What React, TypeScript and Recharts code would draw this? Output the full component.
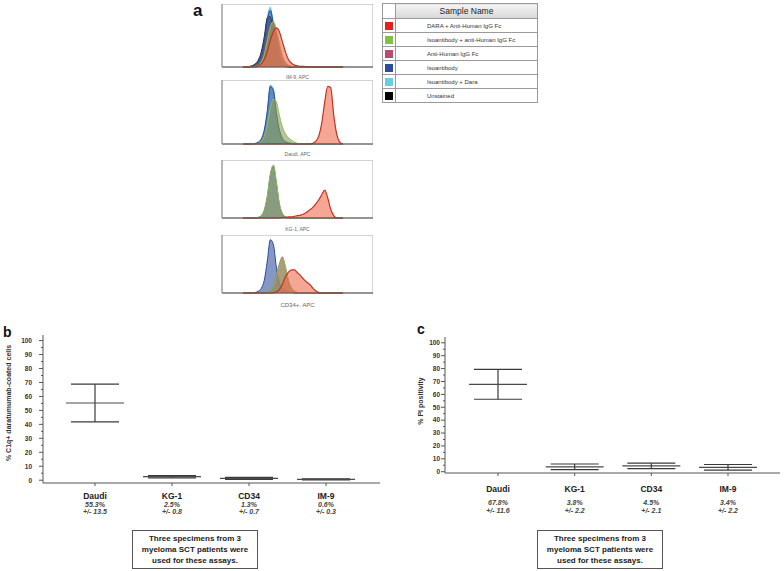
import React from "react";
import { AreaChart, Area, XAxis, YAxis, ReferenceArea, ComposedChart, Scatter, ErrorBar } from "recharts";

const FONT = "'Liberation Sans', Arial, sans-serif";

// legend of panel a
const sampleNames = [
  "DARA + Anti-Human IgG Fc",
  "Isoantibody + anti-Human IgG Fc",
  "Anti-Human IgG Fc",
  "Isoantibody",
  "Isoantibody + Dara",
  "Unstained",
];
const sampleColors = ["#e3211c", "#7dc242", "#b94a73", "#2c4c9c", "#6dcde0", "#000000"];
// overlay fills look muted in the flow plots
const fillColors = ["#ee6a4c", "#8c9f55", "#b3607d", "#34549f", "#72c9dc", "#333333"];
const strokeColors = ["#c8301f", "#93bf55", "#b0466e", "#2a4aa0", "#5cc8dc", "#222222"];

// histogram channel bins (APC, relative scale)
const bins = [14, 16, 18, 20, 22, 24, 26, 28, 30, 32, 34, 36, 38, 40, 42, 44, 46, 48, 50, 52, 54, 56, 58, 60, 62, 64, 66, 68, 70, 72, 74, 76, 78, 80];
const histTicks = [0, 4, 8, 12, 16, 20, 24, 28, 32, 36, 40, 44, 48, 52, 56, 60, 64, 68, 72, 76, 80, 84, 88, 92, 96, 100];

const im9Black = [0, 0, 0, 2, 5, 11, 24, 48, 78, 80, 55, 30, 12, 4, 1, 0, 0, 0, 0, 0, 0, 0, 0, 0, 0, 0, 0, 0, 0, 0, 0, 0, 0, 0];
const im9Blue = [0, 0, 1, 2, 4, 9, 20, 42, 75, 90, 70, 45, 22, 9, 3, 1, 0, 0, 0, 0, 0, 0, 0, 0, 0, 0, 0, 0, 0, 0, 0, 0, 0, 0];
const im9Cyan = [0, 0, 0, 1, 3, 7, 17, 40, 78, 95, 66, 40, 18, 7, 2, 0, 0, 0, 0, 0, 0, 0, 0, 0, 0, 0, 0, 0, 0, 0, 0, 0, 0, 0];
const im9Magenta = [0, 0, 0, 0, 1, 3, 9, 22, 45, 65, 70, 55, 33, 15, 6, 2, 1, 0, 0, 0, 0, 0, 0, 0, 0, 0, 0, 0, 0, 0, 0, 0, 0, 0];
const im9Green = [0, 0, 0, 0, 1, 3, 8, 20, 42, 64, 72, 60, 38, 18, 8, 3, 1, 0, 0, 0, 0, 0, 0, 0, 0, 0, 0, 0, 0, 0, 0, 0, 0, 0];
const im9Red = [0, 0, 0, 0, 0, 2, 5, 12, 25, 42, 56, 62, 56, 40, 24, 12, 6, 3, 2, 1, 1, 0.5, 0, 0, 0, 0, 0, 0, 0, 0, 0, 0, 0, 0];

const daudiBlue = [0, 0, 0, 0, 1, 3, 8, 22, 52, 90, 84, 48, 22, 9, 4, 2, 1, 0, 0, 0, 0, 0, 0, 0, 0, 0, 0, 0, 0, 0, 0, 0, 0, 0];
const daudiCyan = [0, 0, 0, 0, 0, 2, 6, 18, 48, 92, 86, 50, 22, 8, 3, 1, 0, 0, 0, 0, 0, 0, 0, 0, 0, 0, 0, 0, 0, 0, 0, 0, 0, 0];
const daudiGreen = [0, 0, 0, 0, 0, 1, 4, 12, 30, 55, 70, 66, 45, 27, 16, 10, 6, 3, 1, 0, 0, 0, 0, 0, 0, 0, 0, 0, 0, 0, 0, 0, 0, 0];
const daudiRed = [0, 0, 0, 0, 0, 0, 0, 0, 0, 0, 0, 0, 0, 0, 0, 0, 0, 0, 0, 0, 0, 0, 0, 1, 4, 12, 32, 65, 90, 88, 45, 15, 3, 0];

const kg1Blue = [0, 0, 0, 0, 0, 1, 4, 13, 36, 74, 90, 60, 23, 7, 2, 0, 0, 0, 0, 0, 0, 0, 0, 0, 0, 0, 0, 0, 0, 0, 0, 0, 0, 0];
const kg1Green = [0, 0, 0, 0, 0, 1, 4, 14, 38, 75, 91, 62, 25, 8, 2, 0, 0, 0, 0, 0, 0, 0, 0, 0, 0, 0, 0, 0, 0, 0, 0, 0, 0, 0];
const kg1Red = [0, 0, 0, 0, 0, 0, 0, 0, 0, 0, 0, 0, 0, 1, 1, 2, 2, 3, 4, 5, 7, 10, 14, 18, 24, 31, 40, 48, 35, 15, 4, 0, 0, 0];

const cd34Blue = [0, 0, 0, 0, 1, 3, 8, 22, 55, 92, 84, 45, 18, 8, 4, 2, 1, 0, 0, 0, 0, 0, 0, 0, 0, 0, 0, 0, 0, 0, 0, 0, 0, 0];
const cd34Magenta = [0, 0, 0, 0, 0, 0, 0, 0, 1, 4, 12, 30, 50, 62, 44, 20, 8, 3, 1, 0, 0, 0, 0, 0, 0, 0, 0, 0, 0, 0, 0, 0, 0, 0];
const cd34Green = [0, 0, 0, 0, 0, 0, 0, 0, 1, 4, 12, 28, 48, 60, 45, 22, 9, 3, 1, 0, 0, 0, 0, 0, 0, 0, 0, 0, 0, 0, 0, 0, 0, 0];
const cd34Red = [0, 0, 0, 0, 0, 0, 0, 0, 0, 0, 0, 2, 6, 15, 28, 36, 40, 40, 35, 30, 24, 19, 15, 9, 4, 1, 0, 0, 0, 0, 0, 0, 0, 0];

// panels b and c
const cellLines = ["Daudi", "KG-1", "CD34", "IM-9"];
const c1qMean = [55.3, 2.5, 1.3, 0.6];
const c1qSd = [13.5, 0.8, 0.7, 0.3];
const piMean = [67.8, 3.8, 4.5, 3.4];
const piSd = [11.6, 2.2, 2.1, 2.2];
const yTicks = [0, 5, 10, 15, 20, 25, 30, 35, 40, 45, 50, 55, 60, 65, 70, 75, 80, 85, 90, 95, 100];

type Series = { sample: number; values: number[] };

const histPanels: { label: string; series: Series[] }[] = [
  {
    label: "IM-9, APC",
    series: [
      { sample: 4, values: im9Cyan },
      { sample: 5, values: im9Black },
      { sample: 3, values: im9Blue },
      { sample: 2, values: im9Magenta },
      { sample: 1, values: im9Green },
      { sample: 0, values: im9Red },
    ],
  },
  {
    label: "Daudi, APC",
    series: [
      { sample: 4, values: daudiCyan },
      { sample: 3, values: daudiBlue },
      { sample: 1, values: daudiGreen },
      { sample: 0, values: daudiRed },
    ],
  },
  {
    label: "KG-1, APC",
    series: [
      { sample: 3, values: kg1Blue },
      { sample: 1, values: kg1Green },
      { sample: 0, values: kg1Red },
    ],
  },
  {
    label: "CD34+, APC",
    series: [
      { sample: 3, values: cd34Blue },
      { sample: 2, values: cd34Magenta },
      { sample: 1, values: cd34Green },
      { sample: 0, values: cd34Red },
    ],
  },
];

const histLayout = [
  { top: 4, h: 63, labelTop: 74.5, fs: 5 },
  { top: 80, h: 64, labelTop: 152, fs: 5 },
  { top: 160, h: 58, labelTop: 227, fs: 5 },
  { top: 235, h: 58, labelTop: 301.5, fs: 6 },
];

function Histogram({ idx }: { idx: number }) {
  const panel = histPanels[idx];
  const lay = histLayout[idx];
  const data = bins.map((b, i) => {
    const row: Record<string, number> = { x: b };
    panel.series.forEach((s, k) => (row["s" + k] = s.values[i]));
    return row;
  });
  return (
    <>
      <div style={{ position: "absolute", left: 216, top: lay.top }}>
        <AreaChart width={157} height={lay.h + 4} data={data} margin={{ top: 0, right: 0, bottom: 0, left: 0 }}>
          <XAxis dataKey="x" type="number" domain={[0, 100]} ticks={histTicks} tick={false} tickSize={2.5} height={4} stroke="#555" />
          <YAxis type="number" domain={[0, 100]} ticks={[0, 24, 48, 72, 96]} tick={false} tickSize={3} width={6} stroke="#999" />
          <ReferenceArea x1={0} x2={100} y1={0} y2={100} fill="none" stroke="#aaa" strokeWidth={1} />
          {panel.series.map((s, k) => (
            <Area
              key={k}
              type="monotone"
              dataKey={"s" + k}
              stroke={strokeColors[s.sample]}
              strokeWidth={s.sample === 0 ? 1.2 : 1}
              fill={fillColors[s.sample]}
              fillOpacity={s.sample === 0 ? 0.6 : 0.6}
              dot={false}
              activeDot={false}
              isAnimationActive={false}
            />
          ))}
        </AreaChart>
      </div>
      <div
        style={{
          position: "absolute",
          left: 222,
          width: 151,
          top: lay.labelTop,
          textAlign: "center",
          fontSize: lay.fs,
          lineHeight: 1,
          color: "#666",
          fontFamily: FONT,
        }}
      >
        {panel.label}
      </div>
    </>
  );
}

function LegendTable() {
  const border = "1px solid #9a9a9a";
  return (
    <table
      style={{
        position: "absolute",
        left: 382,
        top: 3,
        width: 156,
        borderCollapse: "collapse",
        tableLayout: "fixed",
        fontFamily: FONT,
      }}
    >
      <thead>
        <tr style={{ height: 15 }}>
          <th style={{ width: 12, border, padding: 0 }} />
          <th
            style={{
              border,
              padding: 0,
              fontSize: 8.5,
              fontWeight: 400,
              color: "#222",
              background: "linear-gradient(#f4f4f4, #d8d8d8)",
            }}
          >
            Sample Name
          </th>
        </tr>
      </thead>
      <tbody>
        {sampleNames.map((n, i) => (
          <tr key={n} style={{ height: 14 }}>
            <td style={{ border, padding: 0 }}>
              <div style={{ width: 8, height: 8, margin: "0 auto", background: sampleColors[i] }} />
            </td>
            <td style={{ border, padding: "0 0 0 31px", fontSize: 6, color: "#333", lineHeight: 1, whiteSpace: "nowrap" }}>{n}</td>
          </tr>
        ))}
      </tbody>
    </table>
  );
}

const MeanLine = (props: any) => {
  const { cx, cy } = props;
  if (cx == null || cy == null) return null;
  return <line x1={cx - 29} x2={cx + 29} y1={cy} y2={cy} stroke="#4a4a4a" strokeWidth={1.2} />;
};

function makeYTick(gap: number) {
  return (props: any) => {
    const { x, y, payload } = props;
    const major = payload.value % 10 === 0;
    return (
      <g>
        <line x1={x - (major ? 4 : 2)} x2={x} y1={y} y2={y} stroke="#555" />
        {major && (
          <text x={x - gap} y={y} dy={2.3} textAnchor="end" fontSize={6.5} fontWeight="bold" fill="#333" fontFamily={FONT}>
            {payload.value}
          </text>
        )}
      </g>
    );
  };
}

function makeXTick(means: number[], sds: number[], lines: number[]) {
  return (props: any) => {
    const { x, y, payload } = props;
    const i = cellLines.indexOf(payload.value);
    return (
      <g fontFamily={FONT} textAnchor="middle">
        <text x={x} y={y + lines[0]} fontSize={8.5} fontWeight="bold" fill="#222">
          {payload.value}
        </text>
        <text x={x} y={y + lines[1]} fontSize={7} fontStyle="italic" fontWeight="bold" fill="#444">
          {means[i].toFixed(1)}%
        </text>
        <text x={x} y={y + lines[2]} fontSize={7} fontStyle="italic" fontWeight="bold" fill="#444">
          {"+/- " + sds[i].toFixed(1)}
        </text>
      </g>
    );
  };
}

type SummaryProps = {
  left: number;
  means: number[];
  sds: number[];
  domain: [number, number];
  marginTop: number;
  axisWidth: number;
  xAxisHeight: number;
  pad: { left: number; right: number };
  tickGap: number;
  lines: number[];
  yLabel: string;
  yLabelPos: [number, number];
};

function SummaryChart(p: SummaryProps) {
  const data = cellLines.map((name, i) => ({ name, mean: p.means[i], sd: p.sds[i] }));
  const [lx, ly] = p.yLabelPos;
  return (
    <div style={{ position: "absolute", left: p.left, top: 330 }}>
      <ComposedChart width={384} height={193} data={data} margin={{ top: p.marginTop, right: 4, bottom: 2, left: 0 }}>
        <XAxis
          dataKey="name"
          type="category"
          padding={p.pad}
          height={p.xAxisHeight}
          tickSize={3}
          tickMargin={0}
          stroke="#555"
          interval={0}
          tick={makeXTick(p.means, p.sds, p.lines)}
        />
        <YAxis
          type="number"
          domain={p.domain}
          ticks={yTicks}
          interval={0}
          width={p.axisWidth}
          tickLine={false}
          tickSize={0}
          tickMargin={0}
          stroke="#555"
          allowDataOverflow
          tick={makeYTick(p.tickGap)}
          label={{
            content: () => (
              <text
                x={lx}
                y={ly}
                transform={`rotate(-90 ${lx} ${ly})`}
                textAnchor="middle"
                dominantBaseline="central"
                fontSize={7}
                fontWeight="bold"
                fill="#333"
                fontFamily={FONT}
              >
                {p.yLabel}
              </text>
            ),
          }}
        />
        <Scatter dataKey="mean" shape={MeanLine} isAnimationActive={false}>
          <ErrorBar dataKey="sd" direction="y" width={24} stroke="#3a3a3a" strokeWidth={1.2} isAnimationActive={false} />
        </Scatter>
      </ComposedChart>
    </div>
  );
}

function NoteBox({ left }: { left: number }) {
  return (
    <div
      style={{
        position: "absolute",
        left,
        top: 530,
        width: 124,
        height: 35,
        border: "1px solid #555",
        fontFamily: FONT,
        fontSize: 8,
        fontWeight: "bold",
        lineHeight: "11px",
        textAlign: "center",
        paddingTop: 1.5,
        color: "#222",
        boxSizing: "content-box",
      }}
    >
      Three specimens from 3<br />
      myeloma SCT patients were<br />
      used for these assays.
    </div>
  );
}

const letterStyle: React.CSSProperties = {
  position: "absolute",
  fontFamily: FONT,
  fontWeight: "bold",
  lineHeight: 1,
  color: "#111",
};

export default function App() {
  return (
    <div style={{ position: "absolute", left: 0, top: 0, width: 784, height: 571, background: "#fff", overflow: "hidden" }}>
      <div style={{ ...letterStyle, left: 193, top: 2, fontSize: 17 }}>a</div>
      {histPanels.map((_, i) => (
        <Histogram key={i} idx={i} />
      ))}
      <LegendTable />

      <div style={{ ...letterStyle, left: 3, top: 325, fontSize: 14 }}>b</div>
      <SummaryChart
        left={0}
        means={c1qMean}
        sds={c1qSd}
        domain={[-2, 104]}
        marginTop={5}
        axisWidth={43}
        xAxisHeight={38}
        pad={{ left: 52, right: 54 }}
        tickGap={11}
        lines={[12.5, 20.5, 28]}
        yLabel="% C1q+ daratumumab-coated cells"
        yLabelPos={[8, 73]}
      />
      <NoteBox left={132} />

      <div style={{ ...letterStyle, left: 417, top: 322, fontSize: 14 }}>c</div>
      <SummaryChart
        left={400}
        means={piMean}
        sds={piSd}
        domain={[-1, 104.5]}
        marginTop={7}
        axisWidth={45}
        xAxisHeight={48}
        pad={{ left: 53, right: 52 }}
        tickGap={5}
        lines={[16, 29, 37]}
        yLabel="% PI positivity"
        yLabelPos={[20, 71]}
      />
      <NoteBox left={537} />
    </div>
  );
}
